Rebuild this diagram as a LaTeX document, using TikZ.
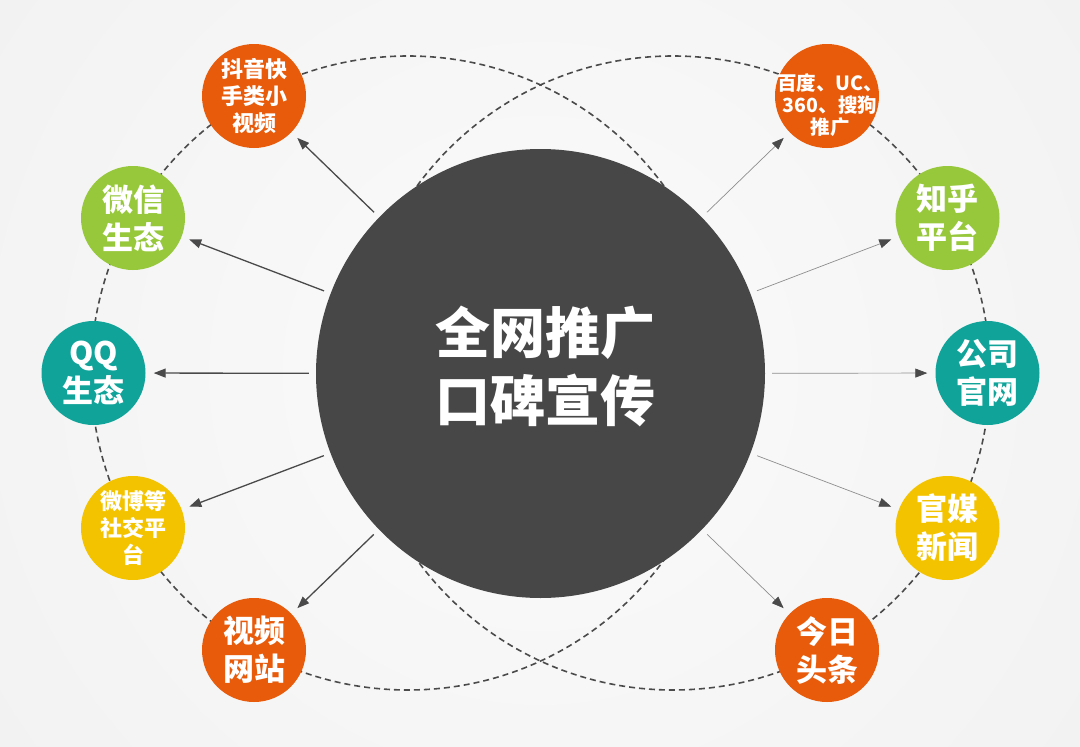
\documentclass[tikz,border=0pt]{standalone}
\usepackage{fontspec}
\newfontfamily\cjk{Noto Sans CJK SC}
\usetikzlibrary{arrows.meta}
\definecolor{hubgrey}{HTML}{474747}
\definecolor{dashgrey}{HTML}{4A4A4A}
\definecolor{thingrey}{HTML}{8E8E8E}
\definecolor{hotorange}{HTML}{E85B0B}
\definecolor{leafgreen}{HTML}{97C83C}
\definecolor{seateal}{HTML}{10A39A}
\definecolor{sunyellow}{HTML}{F4C300}
\definecolor{bgin}{HTML}{FBFBFB}
\definecolor{bgout}{HTML}{E8E8E8}

\begin{document}
\begin{tikzpicture}[x=1pt, y=-1pt]
\tikzstyle{main}=[circle, minimum size=104pt, inner sep=0pt]
\tikzstyle{two}=[text=white, align=center, font=\cjk\bfseries\fontsize{31}{38}\selectfont]
\tikzstyle{three}=[text=white, align=center, font=\cjk\bfseries\fontsize{22}{27}\selectfont]
\tikzstyle{small}=[text=white, align=center, font=\cjk\bfseries\fontsize{19.5}{22}\selectfont, xshift=3pt, yshift=-9pt]
\tikzstyle{hubtext}=[text=white, align=center, font=\cjk\bfseries\fontsize{55}{68}\selectfont, xshift=5pt, yshift=7pt]
\tikzstyle{ring}=[draw=dashgrey, line width=1.6pt, dash pattern=on 6pt off 4pt]
\tikzstyle{connect}=[shorten <=7pt, shorten >=8pt]
\tikzstyle{heavy}=[connect, draw=dashgrey, line width=1.3pt, -{Triangle[length=12pt, width=9pt]}]
\tikzstyle{light}=[connect, draw=thingrey, line width=0.7pt, -{Triangle[length=12pt, width=9pt, color=dashgrey]}]
  \useasboundingbox (0,0) rectangle (1080,747);
  \begin{scope}
    \clip (0,0) rectangle (1080,747);
    \shade[inner color=bgin, outer color=bgout] (-860,-1027) rectangle (1940,1773);
  \end{scope}
  % the two dashed rings
  \draw[ring] (408,373) circle (317pt);
  \draw[ring] (673,373) circle (317pt);
  \node[circle, fill=hubgrey, minimum size=449pt, inner sep=0pt, label={[hubtext]center:{全网推广\\口碑宣传}}] (hub) at (540.5,373.5) {};
  % left side
  \node[main, fill=hotorange, label={[three]center:{抖音快\\手类小\\视频}}] (douyin) at (254,96) {};
  \node[main, fill=leafgreen, label={[two]center:{微信\\生态}}] (weixin) at (133,218) {};
  \node[main, fill=seateal, label={[two]center:{QQ\\生态}}] (qq) at (93.5,373) {};
  \node[main, fill=sunyellow, label={[three]center:{微博等\\社交平\\台}}] (weibo) at (133,528) {};
  \node[main, fill=hotorange, label={[two]center:{视频\\网站}}] (shipin) at (254,650) {};
  % right side
  \node[main, fill=hotorange, label={[small]center:{百度、UC、\\360、搜狗\\推广}}] (baidu) at (827,96) {};
  \node[main, fill=leafgreen, label={[two]center:{知乎\\平台}}] (zhihu) at (947.5,218) {};
  \node[main, fill=seateal, label={[two]center:{公司\\官网}}] (guanwang) at (987.5,373) {};
  \node[main, fill=sunyellow, label={[two]center:{官媒\\新闻}}] (guanmei) at (947.5,528) {};
  \node[main, fill=hotorange, label={[two]center:{今日\\头条}}] (toutiao) at (827,650) {};
  \path (hub) edge [heavy] (douyin)
        (hub) edge [heavy] (weixin)
        (hub) edge [heavy] (qq)
        (hub) edge [heavy] (weibo)
        (hub) edge [heavy] (shipin)
        (hub) edge [light] (baidu)
        (hub) edge [light] (zhihu)
        (hub) edge [light] (guanwang)
        (hub) edge [light] (guanmei)
        (hub) edge [light] (toutiao);
\end{tikzpicture}
\end{document}
